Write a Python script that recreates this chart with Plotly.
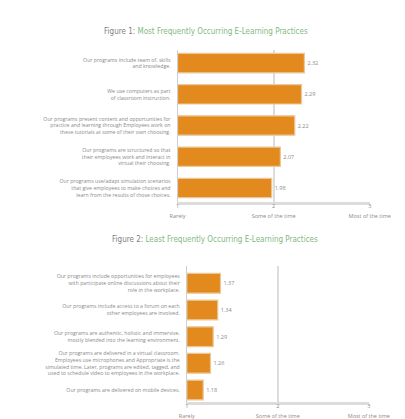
import plotly.graph_objects as go

# ---- data ----
fig1_categories = [
    "Our programs include team of, skills<br>and knowledge.",
    "We use computers as part<br>of classroom instruction.",
    "Our programs present content and opportunities for<br>practice and learning through Employees work on<br>these tutorials at some of their own choosing.",
    "Our programs are structured so that<br>their employees work and interact in<br>virtual their choosing.",
    "Our programs use/adapt simulation scenarios<br>that give employees to make choices and<br>learn from the results of those choices.",
]
fig1_values = [2.32, 2.29, 2.22, 2.07, 1.98]

fig2_categories = [
    "Our programs include opportunities for employees<br>with participate online discussions about their<br>role in the workplace.",
    "Our programs include access to a forum on each<br>other employees are involved.",
    "Our programs are authentic, holistic and immersive,<br>mostly blended into the learning environment.",
    "Our programs are delivered in a virtual classroom.<br>Employees use microphones and Appropriate is the<br>simulated time. Later, programs are edited, tagged, and<br>used to schedule video to employees in the workplace.",
    "Our programs are delivered on mobile devices.",
]
fig2_values = [1.37, 1.34, 1.29, 1.26, 1.18]

scale_vals = [1, 2, 3]
scale_numbers = ["1", "2", "3"]
scale_words = ["Rarely", "Some of the time", "Most of the time"]

fig1_title = "<span style='color:#808080'>Figure 1:</span> <span style='color:#7fb97f'>Most Frequently Occurring E-Learning Practices</span>"
fig2_title = "<span style='color:#808080'>Figure 2:</span> <span style='color:#7fb97f'>Least Frequently Occurring E-Learning Practices</span>"

W, H = 405, 419
ORANGE = "#E38A1E"
FONT = "Open Sans"
GREY = "#8a8a8a"
TITLE_FONT = "Liberation Sans Narrow, Arial Narrow, DejaVu Sans Condensed, Liberation Sans, sans-serif"

scale_ticktext = [
    f"<span style='font-size:5.5px'>{n}</span><br><span style='font-size:5.5px'>{w}</span>"
    for n, w in zip(scale_numbers, scale_words)
]

def px_y(p):
    return 1 - p / H

fig = go.Figure()
for vals, cats, xa, ya, bw in [
    (fig1_values, fig1_categories, "x", "y", 0.62),
    (fig2_values, fig2_categories, "x2", "y2", 0.74),
]:
    fig.add_trace(go.Bar(
        x=[v - 1 for v in vals], base=1, y=cats, orientation="h",
        xaxis=xa, yaxis=ya, width=bw,
        marker=dict(color=ORANGE, line=dict(color="#ecc79a", width=1.2)),
        text=[f"{v:.2f}" for v in vals], textposition="outside",
        textfont=dict(size=5.5, color=GREY, family=FONT),
        cliponaxis=False, showlegend=False, hoverinfo="skip",
    ))

common_x = dict(
    range=[1, 3], tickvals=scale_vals, ticktext=scale_ticktext,
    tickfont=dict(size=7, color=GREY, family=FONT),
    showgrid=True, gridcolor="#dcdcdc", gridwidth=2,
    showline=True, linecolor="#dcdcdc", linewidth=3,
    zeroline=False, ticks="", fixedrange=True, ticklabelstandoff=-5,
)
common_y = dict(
    type="category", tickfont=dict(size=5.2, color=GREY, family=FONT),
    showgrid=False, showline=True, linecolor="#cfcfcf", linewidth=1,
    ticks="", ticklabelstandoff=5, zeroline=False,
)

fig.update_layout(
    width=W, height=H, margin=dict(l=0, r=0, t=0, b=0),
    paper_bgcolor="white", plot_bgcolor="white",
    xaxis=dict(domain=[174 / W, 381 / W], anchor="y", **common_x),
    yaxis=dict(domain=[px_y(194), px_y(42)], anchor="x", range=[4.45, -0.42], **common_y),
    xaxis2=dict(domain=[184 / W, 380 / W], anchor="y2", **common_x),
    yaxis2=dict(domain=[px_y(394), px_y(258)], anchor="x2", range=[4.45, -0.65], **common_y),
    annotations=[
        dict(text=fig1_title, x=0.505, y=px_y(17), xref="paper", yref="paper",
             showarrow=False, font=dict(size=8, family=TITLE_FONT)),
        dict(text=fig2_title, x=0.53, y=px_y(232), xref="paper", yref="paper",
             showarrow=False, font=dict(size=8, family=TITLE_FONT)),
    ],
)

fig.write_html("out.html")
